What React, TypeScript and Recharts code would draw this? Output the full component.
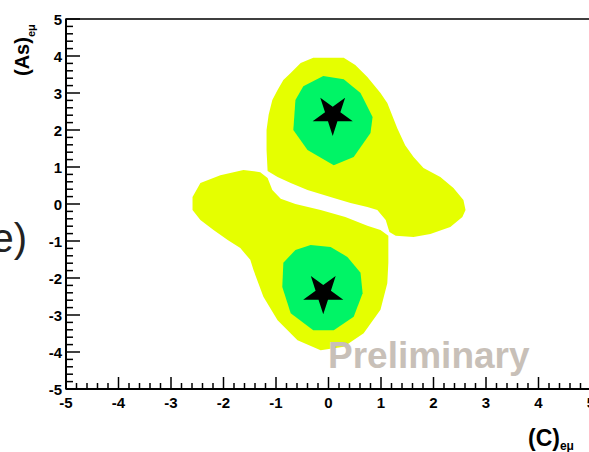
import React from 'react';
import { ScatterChart, Scatter, XAxis, YAxis, ZAxis, ReferenceArea, Symbols } from 'recharts';

type Pt = { x: number; y: number };
const toPts = (a: number[][]): Pt[] => a.map(([x, y]) => ({ x, y }));

// 95% CL contour (yellow), upper solution
const upperOuter = toPts([
  [-0.72, 3.54], [-0.53, 3.81], [-0.29, 3.95], [0.29, 3.95], [0.51, 3.76], [0.74, 3.43],
  [0.99, 3.0], [1.12, 2.73], [1.31, 2.05], [1.46, 1.59], [1.62, 1.27], [1.81, 0.97],
  [2.13, 0.73], [2.38, 0.43], [2.57, 0.11], [2.61, -0.16], [2.55, -0.35], [2.32, -0.62],
  [1.94, -0.81], [1.62, -0.89], [1.28, -0.86], [1.16, -0.76], [1.09, -0.43], [0.93, -0.16],
  [0.74, -0.08], [0.42, 0.03], [0.10, 0.16], [-0.40, 0.38], [-0.72, 0.57], [-0.97, 0.73],
  [-1.16, 0.89], [-1.18, 1.46], [-1.18, 2.0], [-1.14, 2.41], [-1.07, 2.81], [-0.97, 3.08],
  [-0.86, 3.35],
]);

// 95% CL contour (yellow), lower solution
const lowerOuter = toPts([
  [-1.30, 0.86], [-1.16, 0.70], [-1.07, 0.38], [-0.91, 0.14], [-0.63, 0.0], [-0.15, -0.16],
  [0.32, -0.35], [0.74, -0.59], [0.99, -0.70], [1.14, -0.86], [1.14, -1.59], [1.12, -2.14],
  [0.99, -2.86], [0.67, -3.49], [0.29, -3.86], [-0.15, -3.95], [-0.59, -3.68], [-0.97, -3.14],
  [-1.24, -2.51], [-1.43, -1.78], [-1.49, -1.51], [-1.68, -1.19], [-1.92, -0.97], [-2.19, -0.70],
  [-2.44, -0.43], [-2.59, -0.16], [-2.59, 0.19], [-2.44, 0.57], [-2.06, 0.78], [-1.62, 0.92],
]);

// 68% CL contours (green)
const upperInner = toPts([
  [-0.10, 3.46], [0.29, 3.37], [0.61, 3.0], [0.84, 2.35], [0.80, 1.92], [0.48, 1.27],
  [0.10, 1.05], [-0.40, 1.46], [-0.67, 2.0], [-0.63, 2.81], [-0.48, 3.18],
]);
const lowerInner = toPts([
  [-0.34, -1.11], [0.04, -1.16], [0.36, -1.43], [0.61, -1.86], [0.65, -2.41], [0.48, -3.05],
  [0.10, -3.41], [-0.29, -3.41], [-0.72, -2.95], [-0.88, -2.24], [-0.86, -1.59], [-0.63, -1.24],
]);

// best fit points
const bestFit: Pt[] = [{ x: 0.08, y: 2.41 }, { x: -0.1, y: -2.41 }];

const majorTicks = [-5, -4, -3, -2, -1, 0, 1, 2, 3, 4, 5];
const allTicks = Array.from({ length: 51 }, (_, i) => Math.round((-5 + i * 0.2) * 10) / 10);

const YELLOW = '#e5ff00';
const GREEN = '#00f466';
const FONT = "'Liberation Sans', Arial, Helvetica, sans-serif";

const isMajor = (v: number) => majorTicks.includes(Math.round(v * 10) / 10);

const YTick = (props: any) => {
  const { x, y, payload } = props;
  const major = isMajor(payload.value);
  return (
    <g>
      <line x1={x} x2={x + (major ? 14 : 7)} y1={y} y2={y} stroke="#000" strokeWidth={1.5} />
      {major && (
        <text x={x - 4} y={y + 5.5} textAnchor="end" fontFamily={FONT} fontWeight="bold" fontSize={15} fill="#000">
          {Math.round(payload.value)}
        </text>
      )}
    </g>
  );
};

const XTick = (props: any) => {
  const { x, y, payload } = props;
  const major = isMajor(payload.value);
  return (
    <g>
      <line x1={x} x2={x} y1={y} y2={y - (major ? 12 : 6)} stroke="#000" strokeWidth={1.5} />
      {major && (
        <text x={x} y={y + 19} textAnchor="middle" fontFamily={FONT} fontWeight="bold" fontSize={15} fill="#000">
          {Math.round(payload.value)}
        </text>
      )}
    </g>
  );
};

const noPoint = () => <g />;

const StarShape = (props: any) => {
  const { cx, cy } = props;
  return (
    <g transform={`rotate(180 ${cx} ${cy})`}>
      <Symbols type="star" cx={cx} cy={cy} size={500} fill="#000" />
    </g>
  );
};

const App: React.FC = () => {
  return (
    <div style={{ position: 'fixed', left: 0, top: 0, width: 589, height: 452, overflow: 'hidden', background: '#fff' }}>
      <div style={{ position: 'relative', width: 600, height: 452 }}>
        <ScatterChart width={600} height={452} margin={{ top: 19, right: 9, bottom: 62, left: 65 }}>
          <ReferenceArea x1={-5} x2={5} y1={-5} y2={5} fill="none" stroke="#000" strokeWidth={1.5} />
          <Scatter data={upperOuter} fill={YELLOW} line={{ fill: YELLOW, stroke: 'none' }} shape={noPoint} isAnimationActive={false} />
          <Scatter data={lowerOuter} fill={YELLOW} line={{ fill: YELLOW, stroke: 'none' }} shape={noPoint} isAnimationActive={false} />
          <Scatter data={upperInner} fill={GREEN} line={{ fill: GREEN, stroke: 'none' }} shape={noPoint} isAnimationActive={false} />
          <Scatter data={lowerInner} fill={GREEN} line={{ fill: GREEN, stroke: 'none' }} shape={noPoint} isAnimationActive={false} />
          <Scatter data={bestFit} fill="#000" shape={<StarShape />} isAnimationActive={false} />
          <XAxis
            type="number"
            dataKey="x"
            domain={[-5, 5]}
            ticks={allTicks}
            interval={0}
            height={1}
            tickSize={0}
            tickMargin={0}
            tickLine={false}
            tick={<XTick />}
            axisLine={{ stroke: '#000', strokeWidth: 2 }}
          />
          <YAxis
            type="number"
            dataKey="y"
            domain={[-5, 5]}
            ticks={allTicks}
            interval={0}
            width={1}
            tickSize={0}
            tickMargin={0}
            tickLine={false}
            tick={<YTick />}
            axisLine={{ stroke: '#000', strokeWidth: 2 }}
          />
          <ZAxis range={[500, 500]} />
        </ScatterChart>
        <svg width={600} height={452} style={{ position: 'absolute', left: 0, top: 0, pointerEvents: 'none' }}>
          <text x={27} y={252} textAnchor="end" fontFamily={FONT} fontSize={40} fill="#222">e)</text>
          <text transform="translate(29, 76) rotate(-90)" fontFamily={FONT} fontWeight="bold" fontSize={20} fill="#000">
            (As)<tspan fontSize={11} dy={6}>eμ</tspan>
          </text>
          <text x={528} y={446} fontFamily={FONT} fontWeight="bold" fontSize={23} fill="#000">
            (C)<tspan fontSize={12} dy={4}>eμ</tspan>
          </text>
          <text x={328} y={368} fontFamily={FONT} fontWeight="bold" fontSize={37} fill="#c8c0b8">Preliminary</text>
        </svg>
      </div>
    </div>
  );
};

export default App;
